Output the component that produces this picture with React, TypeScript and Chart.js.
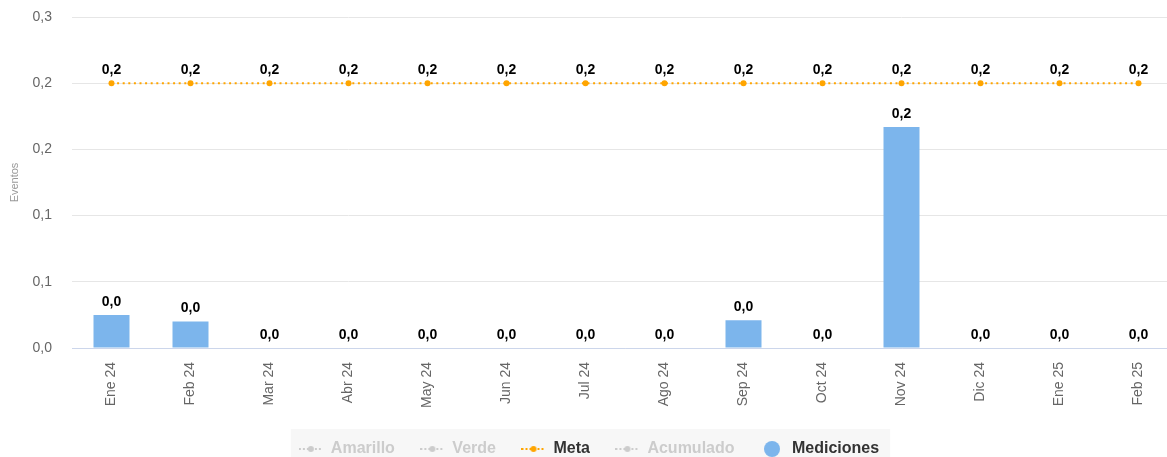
import React, { useEffect, useRef } from 'react';
import { Chart, registerables } from 'chart.js';

Chart.register(...registerables);

const categories = ['Ene 24', 'Feb 24', 'Mar 24', 'Abr 24', 'May 24', 'Jun 24', 'Jul 24', 'Ago 24', 'Sep 24', 'Oct 24', 'Nov 24', 'Dic 24', 'Ene 25', 'Feb 25'];
const medicionesValues = [0.025, 0.02, 0, 0, 0, 0, 0, 0, 0.021, 0, 0.167, 0, 0, 0];
const metaValues = [0.2, 0.2, 0.2, 0.2, 0.2, 0.2, 0.2, 0.2, 0.2, 0.2, 0.2, 0.2, 0.2, 0.2];
const amarilloValues: number[] = [];
const verdeValues: number[] = [];
const acumuladoValues: number[] = [];
const yTickLabels = ['0,0', '0,1', '0,1', '0,2', '0,2', '0,3'];
const legendNames = ['Amarillo', 'Verde', 'Meta', 'Acumulado', 'Mediciones'];

const FONT = '"Liberation Sans", Arial, Helvetica, sans-serif';

function fmt(v: number) {
  return (Math.round(v * 10) / 10).toFixed(1).replace('.', ',');
}

function lineSymbol(color: string) {
  const c = document.createElement('canvas');
  c.width = 24;
  c.height = 8;
  const ctx = c.getContext('2d')!;
  ctx.strokeStyle = color;
  ctx.lineWidth = 2;
  ctx.setLineDash([2, 2]);
  ctx.beginPath();
  ctx.moveTo(0, 4);
  ctx.lineTo(24, 4);
  ctx.stroke();
  ctx.setLineDash([]);
  ctx.fillStyle = color;
  ctx.beginPath();
  ctx.arc(12, 4, 3, 0, Math.PI * 2);
  ctx.fill();
  return c;
}

function circleSymbol(color: string) {
  const c = document.createElement('canvas');
  c.width = 16;
  c.height = 16;
  const ctx = c.getContext('2d')!;
  ctx.fillStyle = color;
  ctx.beginPath();
  ctx.arc(8, 8, 8, 0, Math.PI * 2);
  ctx.fill();
  return c;
}

const legendBg = {
  id: 'legendBg',
  beforeDraw(chart: any) {
    const lg = chart.legend;
    if (!lg || !lg.legendHitBoxes || !lg.legendHitBoxes.length) return;
    const boxes = lg.legendHitBoxes;
    const left = Math.min(...boxes.map((b: any) => b.left)) - 8;
    const right = Math.max(...boxes.map((b: any) => b.left + b.width)) + 11;
    const top = Math.min(...boxes.map((b: any) => b.top)) - 12;
    const ctx = chart.ctx;
    ctx.save();
    ctx.fillStyle = '#f7f7f7';
    ctx.fillRect(left, top, right - left, chart.height - top);
    ctx.restore();
  },
};

const valueLabels = {
  id: 'valueLabels',
  afterDatasetsDraw(chart: any) {
    const ctx = chart.ctx;
    ctx.save();
    ctx.font = 'bold 14px ' + FONT;
    ctx.fillStyle = '#000000';
    ctx.textAlign = 'center';
    ctx.textBaseline = 'middle';
    chart.data.datasets.forEach((ds: any, i: number) => {
      if (!ds.showValues || !chart.isDatasetVisible(i)) return;
      const meta = chart.getDatasetMeta(i);
      meta.data.forEach((el: any, j: number) => {
        const v = ds.data[j];
        if (v === null || v === undefined) return;
        ctx.fillText(fmt(v), el.x, el.y - 13);
      });
    });
    ctx.restore();
  },
};

export default function App() {
  const ref = useRef<HTMLCanvasElement | null>(null);

  useEffect(() => {
    if (!ref.current) return;
    Chart.defaults.font.family = FONT;
    const grey = '#cccccc';
    const orange = '#FFA500';
    const blue = '#7cb5ec';
    const symbols = [lineSymbol(grey), lineSymbol(grey), lineSymbol(orange), lineSymbol(grey), circleSymbol(blue)];
    const colors = [grey, grey, '#333333', grey, '#333333'];

    const chart = new Chart(ref.current, {
      type: 'bar',
      data: {
        labels: categories,
        datasets: [
          { type: 'line', label: legendNames[0], data: amarilloValues, hidden: true, borderColor: '#f0d000', pointRadius: 3 } as any,
          { type: 'line', label: legendNames[1], data: verdeValues, hidden: true, borderColor: '#2ecc40', pointRadius: 3 } as any,
          {
            type: 'line',
            label: legendNames[2],
            data: metaValues,
            borderColor: orange,
            backgroundColor: orange,
            borderWidth: 2,
            borderDash: [2, 3.6],
            pointRadius: 3,
            pointBorderWidth: 0,
            pointBackgroundColor: orange,
            fill: false,
            showValues: true,
          } as any,
          { type: 'line', label: legendNames[3], data: acumuladoValues, hidden: true, borderColor: '#888888', pointRadius: 3 } as any,
          {
            type: 'bar',
            label: legendNames[4],
            data: medicionesValues,
            backgroundColor: blue,
            borderWidth: 0,
            inflateAmount: 0,
            barThickness: 36,
            showValues: true,
          } as any,
        ],
      },
      options: {
        animation: false,
        responsive: true,
        maintainAspectRatio: false,
        layout: { padding: { top: 17, left: 0, right: 0, bottom: 0 } },
        plugins: {
          tooltip: { enabled: false },
          legend: {
            position: 'bottom',
            onClick: () => {},
            labels: {
              usePointStyle: true,
              pointStyleWidth: 24,
              padding: 25.5,
              font: { size: 16, weight: 'bold', family: FONT },
              generateLabels: () =>
                legendNames.map((name, i) => ({
                  text: name,
                  fontColor: colors[i],
                  hidden: false,
                  pointStyle: symbols[i],
                  datasetIndex: i,
                  lineWidth: 0,
                  strokeStyle: 'transparent',
                  fillStyle: 'transparent',
                })) as any,
            },
          },
        },
        scales: {
          x: {
            afterFit: (s: any) => {
              s.height = 67.5;
              s.paddingLeft = 0;
              s.paddingRight = 0;
            },
            grid: { display: false, drawTicks: false },
            border: { display: true, color: '#ccd6eb', width: 1 },
            ticks: {
              minRotation: 90,
              maxRotation: 90,
              autoSkip: false,
              padding: 14,
              color: '#666666',
              font: { size: 14 },
            },
          },
          y: {
            min: 0,
            max: 0.25,
            afterFit: (s: any) => {
              s.width = 76;
              s.paddingTop = 0;
              s.paddingBottom = 0;
            },
            grid: { color: '#e6e6e6', drawTicks: false },
            border: { display: false },
            ticks: {
              stepSize: 0.05,
              padding: 20,
              color: '#666666',
              font: { size: 14 },
              callback: (_v: any, i: number) => yTickLabels[i],
            },
            title: {
              display: true,
              text: 'Eventos',
              color: '#999999',
              font: { size: 11 },
              padding: { top: 12, bottom: 0 },
            },
          },
        },
      },
      plugins: [legendBg, valueLabels],
    });
    return () => chart.destroy();
  }, []);

  return (
    <div style={{ position: 'fixed', left: 0, top: 0, width: 1167, height: 457, overflow: 'hidden', background: '#ffffff' }}>
      <div style={{ position: 'absolute', left: -4, top: 0, width: 1186, height: 467 }}>
        <canvas ref={ref} />
      </div>
    </div>
  );
}
